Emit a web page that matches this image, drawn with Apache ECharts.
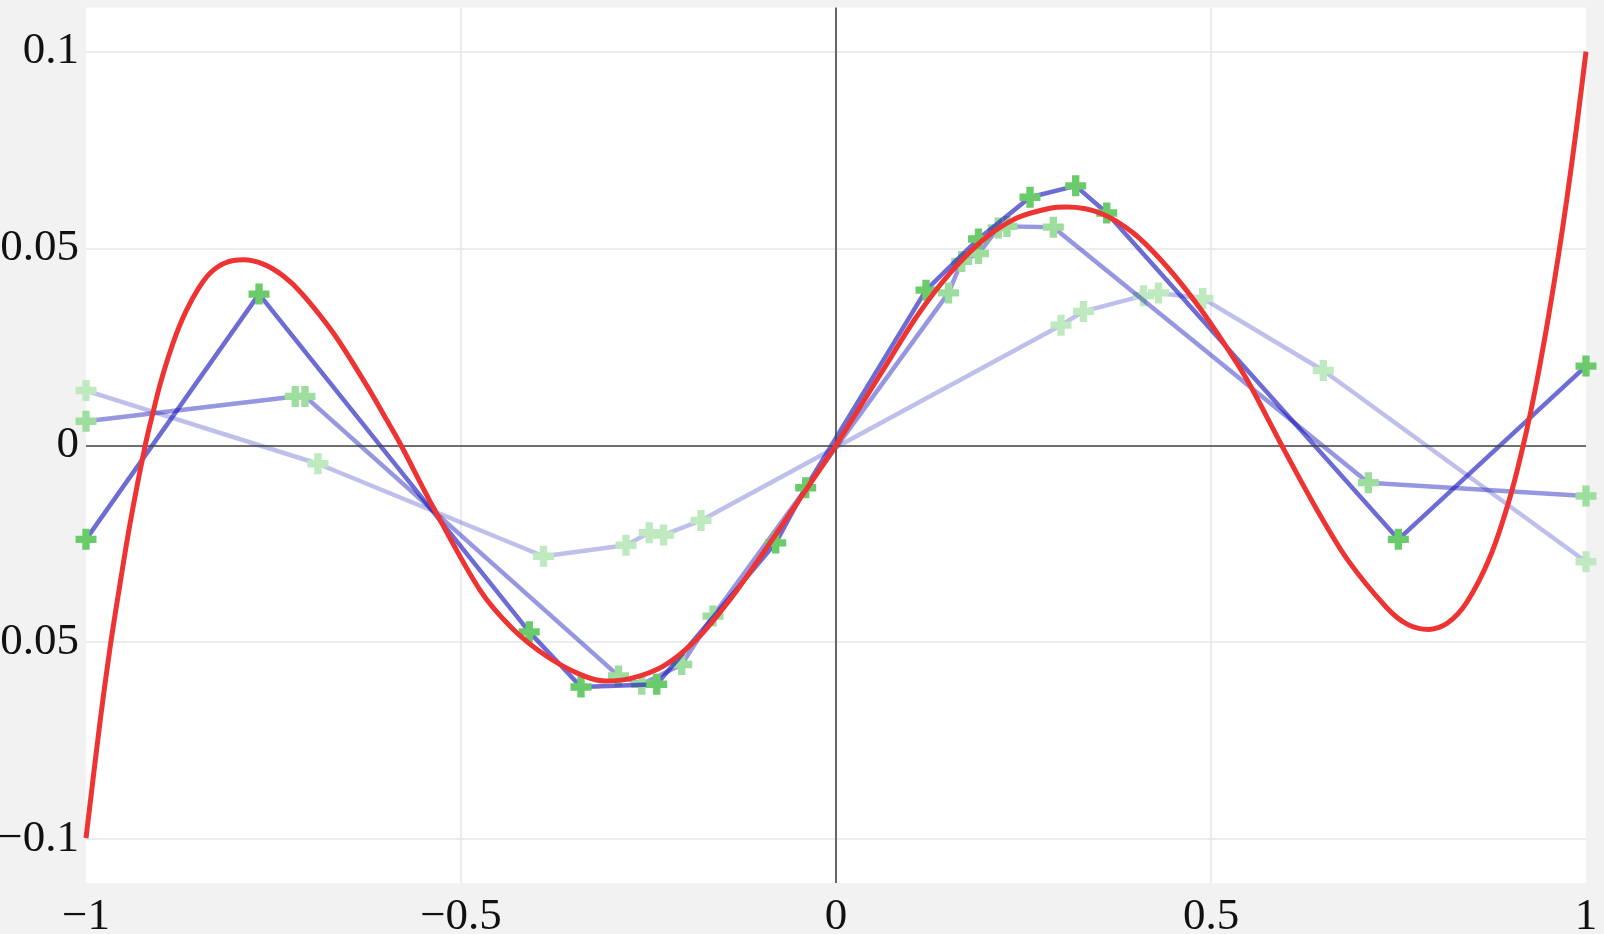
<!DOCTYPE html>
<html>
<head>
<meta charset="utf-8">
<script src="https://cdn.jsdelivr.net/npm/echarts@6/dist/echarts.min.js"></script>
<style>
  html, body { margin: 0; padding: 0; background: #f2f2f2; }
  #chart { width: 1604px; height: 934px; }
</style>
</head>
<body>
<div id="chart"></div>
<script>
// ---- tick labels ----
const xTickValues = [-1, -0.5, 0, 0.5, 1];
const xTickLabels = ['\u22121', '\u22120.5', '0', '0.5', '1'];
const yTickValues = [-0.1, -0.05, 0, 0.05, 0.1];
const yTickLabels = ['\u22120.1', '\u22120.05', '0', '0.05', '0.1'];

// ---- red reference curve ----
const redX = [-1, -0.981, -0.968, -0.957, -0.9413, -0.921, -0.9102, -0.9013, -0.8902, -0.8791,
  -0.8658, -0.8502, -0.8347, -0.8147, -0.7902, -0.7636, -0.7369, -0.7124, -0.6702, -0.6258,
  -0.599, -0.58, -0.5369, -0.4747, -0.4302, -0.3857, -0.3413, -0.308, -0.2747, -0.2302,
  -0.1857, -0.1413, -0.0969, -0.0524, 0, 0.0187, 0.063, 0.1076, 0.152, 0.1964,
  0.241, 0.2853, 0.3076, 0.352, 0.3964, 0.441, 0.4853, 0.53, 0.552, 0.5942,
  0.641, 0.681, 0.734, 0.762, 0.79, 0.815, 0.841, 0.872, 0.8987, 0.919,
  0.935, 0.95, 0.963, 0.9742, 0.9876, 1];
const redY = [-0.0998, -0.0698, -0.0515, -0.038, -0.0199, 0, 0.0087, 0.0154, 0.0224, 0.0285,
  0.0344, 0.0398, 0.0437, 0.0463, 0.0471, 0.046, 0.043, 0.0386, 0.0285, 0.0152,
  0.0064, 0, -0.0158, -0.0368, -0.0468, -0.0536, -0.0582, -0.0599, -0.0593, -0.0561,
  -0.0493, -0.0392, -0.0273, -0.0148, 0, 0.0057, 0.0192, 0.0327, 0.0437, 0.0522,
  0.0577, 0.0602, 0.0605, 0.059, 0.0539, 0.0454, 0.0348, 0.0222, 0.0153, 0,
  -0.0163, -0.0288, -0.0412, -0.0455, -0.0468, -0.0452, -0.0399, -0.0284, -0.0132, 0.0022,
  0.0168, 0.0327, 0.0479, 0.0622, 0.081, 0.1];

// ---- approximations (blue lines, green markers) ----
const lightX = [-1, -0.6907, -0.39, -0.28, -0.249, -0.23, -0.18, 0.30, 0.33, 0.41, 0.43, 0.489, 0.6497, 1];
const lightY = [0.0139, -0.0047, -0.0282, -0.0254, -0.0222, -0.0228, -0.0191, 0.0305, 0.034, 0.038, 0.0387, 0.0373, 0.019, -0.0296];

const midX = [-1, -0.721, -0.708, -0.29, -0.259, -0.2057, -0.164, 0.15, 0.1676, 0.19, 0.2164, 0.228, 0.2898, 0.7098, 1];
const midY = [0.0061, 0.0124, 0.0124, -0.0586, -0.0607, -0.0557, -0.0434, 0.0387, 0.0467, 0.0487, 0.0552, 0.0556, 0.0554, -0.0095, -0.0129];

const darkX = [-1, -0.7693, -0.409, -0.34, -0.239, -0.0804, -0.0404, 0.12, 0.19, 0.2587, 0.3196, 0.361, 0.7498, 1];
const darkY = [-0.0239, 0.0384, -0.0474, -0.0614, -0.0607, -0.0248, -0.0108, 0.0394, 0.0524, 0.063, 0.0659, 0.059, -0.0239, 0.0201];

const zip = (xs, ys) => xs.map((x, i) => [x, ys[i]]);
const lookup = (vals, labels) => (v) => {
  const i = vals.findIndex(t => Math.abs(t - v) < 1e-9);
  return i >= 0 ? labels[i] : '';
};

const plus = 'path://M6.5,0H13.5V6.5H20V13.5H13.5V20H6.5V13.5H0V6.5H6.5Z';
const labelFont = { fontFamily: 'Liberation Serif', fontSize: 45, color: '#111' };

function approxSeries(xs, ys, lineAlpha, markerColor, z) {
  return {
    type: 'line',
    data: zip(xs, ys),
    symbol: plus,
    symbolSize: 21,
    showSymbol: true,
    showAllSymbol: true,
    lineStyle: { color: 'rgba(25,25,188,' + lineAlpha + ')', width: 4.5 },
    itemStyle: { color: markerColor, borderWidth: 0 },
    emphasis: { disabled: true },
    silent: true,
    z: z
  };
}

const chart = echarts.init(document.getElementById('chart'), null, { renderer: 'canvas' });
chart.setOption({
  animation: false,
  backgroundColor: '#f2f2f2',
  grid: {
    left: 86, right: 18, top: 7.5, bottom: 51,
    outerBoundsMode: 'none',
    containLabel: false,
    show: true, backgroundColor: '#ffffff', borderWidth: 0
  },
  xAxis: {
    type: 'value',
    min: -1, max: 1, interval: 0.5,
    axisLine: { show: false, onZero: false },
    axisTick: { show: false },
    axisLabel: Object.assign({ margin: 12, formatter: lookup(xTickValues, xTickLabels) }, labelFont),
    splitLine: { show: true, showMinLine: false, showMaxLine: false, lineStyle: { color: '#e6e6e6', width: 1.5 } }
  },
  yAxis: {
    type: 'value',
    min: -0.1112, max: 0.1112,
    splitNumber: 4, minInterval: 0.05, maxInterval: 0.05,
    axisLine: { show: false, onZero: false },
    axisTick: { show: false },
    axisLabel: Object.assign({ margin: 7, showMinLabel: false, showMaxLabel: false,
      formatter: lookup(yTickValues, yTickLabels) }, labelFont),
    splitLine: { show: true, showMinLine: false, showMaxLine: false, lineStyle: { color: '#e6e6e6', width: 1.5 } }
  },
  series: [
    {
      type: 'line', data: [], silent: true, z: 1,
      markLine: {
        silent: true, symbol: 'none', animation: false,
        label: { show: false },
        lineStyle: { color: '#444', width: 1.6, type: 'solid' },
        emphasis: { disabled: true },
        data: [{ xAxis: 0 }, { yAxis: 0 }]
      }
    },
    approxSeries(lightX, lightY, 0.28, '#bfe9bf', 2),
    approxSeries(midX, midY, 0.45, '#9ddd9d', 3),
    approxSeries(darkX, darkY, 0.64, '#6acb6a', 4),
    {
      type: 'line',
      data: zip(redX, redY),
      smooth: 0.3,
      showSymbol: false,
      lineStyle: { color: '#ee3333', width: 5 },
      emphasis: { disabled: true },
      silent: true,
      z: 6
    }
  ]
});
</script>
</body>
</html>
